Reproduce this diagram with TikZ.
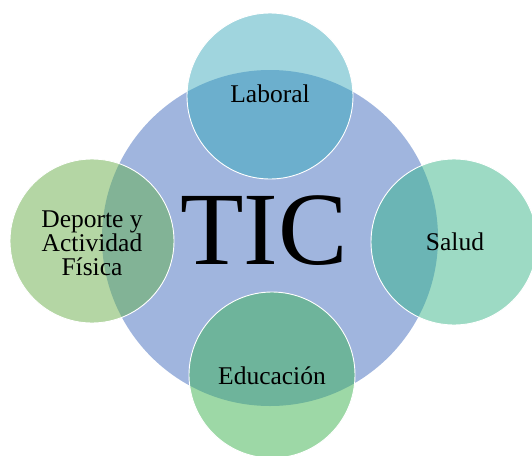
\documentclass[tikz,border=0pt]{standalone}
\usepackage{fontspec}
\setmainfont{Liberation Serif}
\definecolor{ticblue}{RGB}{160,181,222}
\definecolor{labLight}{RGB}{160,213,222}
\definecolor{labDark}{RGB}{108,175,205}
\definecolor{depLight}{RGB}{180,214,164}
\definecolor{depDark}{RGB}{130,179,150}
\definecolor{salLight}{RGB}{157,218,196}
\definecolor{salDark}{RGB}{107,181,181}
\definecolor{eduLight}{RGB}{157,216,166}
\definecolor{eduDark}{RGB}{110,180,155}
% one outer circle: light fill, darker part where it lies on the blue one, white rim
\def\petal(#1)#2#3{%
  \fill[#2Light] (#1) circle (#3);
  \begin{scope}
    \clip (270,238) circle (168pt);
    \fill[#2Dark] (#1) circle (#3);
  \end{scope}
  \draw[white, line width=0.9pt] (#1) circle (#3);}
\tikzset{lbl/.style={font=\fontsize{25.5}{24}\selectfont, align=center, inner sep=0pt}}

\begin{document}
\begin{tikzpicture}[x=1pt,y=-1pt]
	\useasboundingbox (0,0) rectangle (532,455);
	
	\fill[ticblue] (270,238) circle (168pt);
	
	\petal(270,96){lab}{83pt}
	\petal(92,241){dep}{82pt}
	\petal(454,242){sal}{83pt}
	\petal(272,375){edu}{83pt}
	
	\node[font=\fontsize{104}{104}\selectfont, inner sep=0pt, anchor=base] (tic) at (264,264) {TIC};
	
	\node[lbl, anchor=base] (laboral) at (270,102) {Laboral};
	\node[lbl] (deporte) at (92,243) {Deporte y\\Actividad\\Física};
	\node[lbl, anchor=base] (salud) at (455,250) {Salud};
	\node[lbl, anchor=base] (educacion) at (272,384) {Educación};
\end{tikzpicture}
\end{document}
